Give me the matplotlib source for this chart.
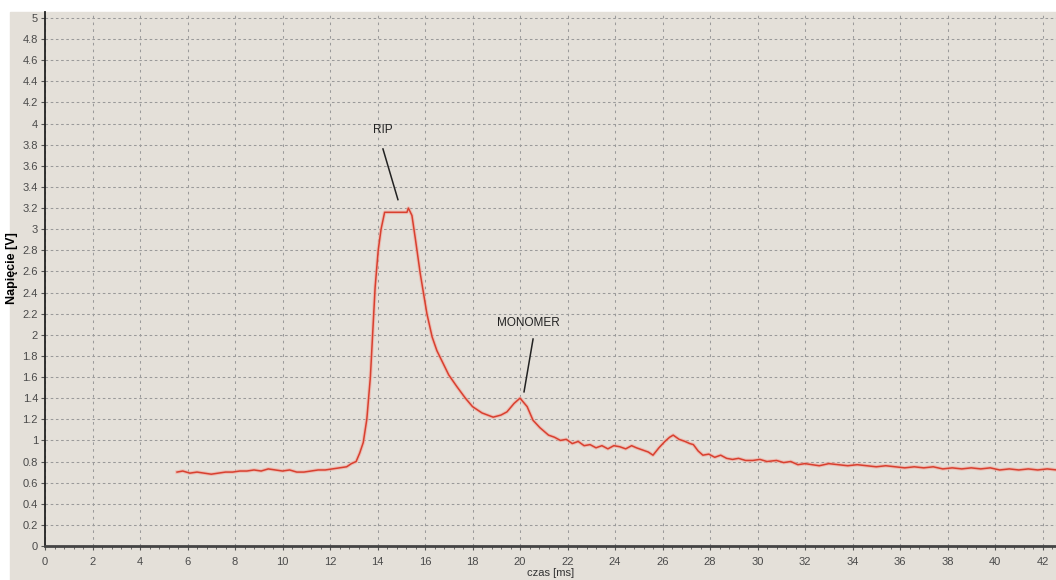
import numpy as np
import matplotlib.pyplot as plt
from matplotlib.ticker import MultipleLocator
from matplotlib.patches import Rectangle

# czas [ms] and napiecie [V]
czas = [5.56, 5.8, 6.1, 6.4, 6.7, 7.0, 7.3, 7.6, 7.9, 8.2, 8.5, 8.8, 9.1, 9.4,
        9.7, 10.0, 10.3, 10.6, 10.9, 11.2, 11.5, 11.8, 12.1, 12.4, 12.7, 12.9,
        13.1, 13.25, 13.4, 13.55, 13.7, 13.8, 13.9, 14.03, 14.15, 14.3, 15.24,
        15.3, 15.45, 15.6, 15.8, 16.08, 16.3, 16.5, 16.76, 17.0, 17.34, 17.7,
        18.0, 18.4, 18.87, 19.2, 19.45, 19.75, 20.0, 20.3, 20.55, 20.84, 21.2,
        21.45, 21.7, 21.95, 22.2, 22.45, 22.7, 22.95, 23.2, 23.45, 23.7, 23.95,
        24.2, 24.45, 24.7, 24.9, 25.15, 25.4, 25.6, 25.85, 26.1, 26.3, 26.45,
        26.7, 26.95, 27.15, 27.3, 27.5, 27.7, 27.95, 28.2, 28.45, 28.7, 28.95,
        29.2, 29.5, 29.8, 30.1, 30.4, 30.8, 31.1, 31.4, 31.7, 32.0, 32.3, 32.6,
        33.0, 33.4, 33.8, 34.2, 34.6, 35.0, 35.4, 35.8, 36.2, 36.6, 37.0, 37.4,
        37.8, 38.2, 38.6, 39.0, 39.4, 39.8, 40.2, 40.6, 41.0, 41.4, 41.8, 42.2,
        42.6]
napiecie = [0.70, 0.71, 0.69, 0.70, 0.69, 0.68, 0.69, 0.70, 0.70, 0.71, 0.71,
            0.72, 0.71, 0.73, 0.72, 0.71, 0.72, 0.70, 0.70, 0.71, 0.72, 0.72,
            0.73, 0.74, 0.75, 0.78, 0.80, 0.88, 0.98, 1.20, 1.60, 2.02, 2.45,
            2.80, 3.00, 3.16, 3.16, 3.20, 3.13, 2.90, 2.58, 2.20, 1.98, 1.85,
            1.73, 1.62, 1.51, 1.40, 1.32, 1.26, 1.22, 1.24, 1.27, 1.35, 1.40,
            1.32, 1.19, 1.12, 1.05, 1.03, 1.00, 1.01, 0.97, 0.99, 0.95, 0.96,
            0.93, 0.95, 0.92, 0.95, 0.94, 0.92, 0.95, 0.93, 0.91, 0.89, 0.86,
            0.93, 0.99, 1.03, 1.05, 1.01, 0.99, 0.97, 0.96, 0.90, 0.86, 0.87,
            0.84, 0.86, 0.83, 0.82, 0.83, 0.81, 0.81, 0.82, 0.80, 0.81, 0.79,
            0.80, 0.77, 0.78, 0.77, 0.76, 0.78, 0.77, 0.76, 0.77, 0.76, 0.75,
            0.76, 0.75, 0.74, 0.75, 0.74, 0.75, 0.73, 0.74, 0.73, 0.74, 0.73,
            0.74, 0.72, 0.73, 0.72, 0.73, 0.72, 0.73, 0.72]

bg = "#e4e0d9"
font = "Liberation Sans"

fig = plt.figure(figsize=(10.56, 5.8), dpi=100, facecolor="white")
# beige panel of the screenshot
fig.patches.append(Rectangle((10 / 1056, 0), 1, (580 - 12) / 580,
                             transform=fig.transFigure, color=bg, zorder=-1))

ax = fig.add_axes([45 / 1056, 34 / 580, (1056 - 45) / 1056, (546 - 12) / 580])
ax.set_facecolor(bg)
ax.set_xlim(0, (1056 - 45) / 23.75)
ax.set_ylim(0, 5 * 534 / 528)

ax.xaxis.set_major_locator(MultipleLocator(2))
ax.xaxis.set_minor_locator(MultipleLocator(0.4))
yt = np.round(np.arange(0, 5.01, 0.2), 1)
ax.set_yticks(yt)
ax.set_yticklabels([f"{v:g}" for v in yt])

ax.yaxis.grid(True, color="#9a9a9a", linestyle=(0, (2.5, 2.5)), linewidth=0.75)
ax.xaxis.grid(True, color="#9a9a9a", linestyle=(0, (2.5, 4)), linewidth=0.75)
ax.tick_params(axis="both", which="major", length=3, width=0.8,
               color="#555555", labelsize=8, labelcolor="#4a4a4a", pad=2)
ax.tick_params(axis="x", which="minor", length=2, width=0.6, color="#555555")
ax.tick_params(axis="x", pad=5)
for lab in ax.get_xticklabels() + ax.get_yticklabels():
    lab.set_fontfamily(font)

for s in ["top", "right"]:
    ax.spines[s].set_visible(False)
ax.spines["left"].set_linewidth(1.3)
ax.spines["left"].set_color("#222222")
ax.spines["bottom"].set_linewidth(2)
ax.spines["bottom"].set_color("#444444")

ax.plot(czas, napiecie, color="#f2a79c", linewidth=2.6, alpha=0.6, zorder=3)
ax.plot(czas, napiecie, color="#d8402f", linewidth=1.1, zorder=4)

# annotations
ax.text(14.23, 3.94, "RIP", ha="center", va="center", fontsize=8.5,
        family=font, color="#222222")
ax.plot([14.23, 14.86], [3.76, 3.28], color="#222222", linewidth=1.1)
ax.text(20.34, 2.11, "MONOMER", ha="center", va="center", fontsize=8.5,
        family=font, color="#222222")
ax.plot([20.55, 20.17], [1.96, 1.46], color="#222222", linewidth=1.1)

ax.set_xlabel("czas [ms]", fontsize=8, family=font, color="#333333")
ax.xaxis.set_label_coords(0.5, -22 / 534)
ax.set_ylabel("Napięcie [V]", fontsize=9, family=font, fontweight="bold",
              color="black")
ax.yaxis.set_label_coords(-27 / 1011, 0.52)

fig.savefig("out.png", dpi=100, facecolor=fig.get_facecolor())
